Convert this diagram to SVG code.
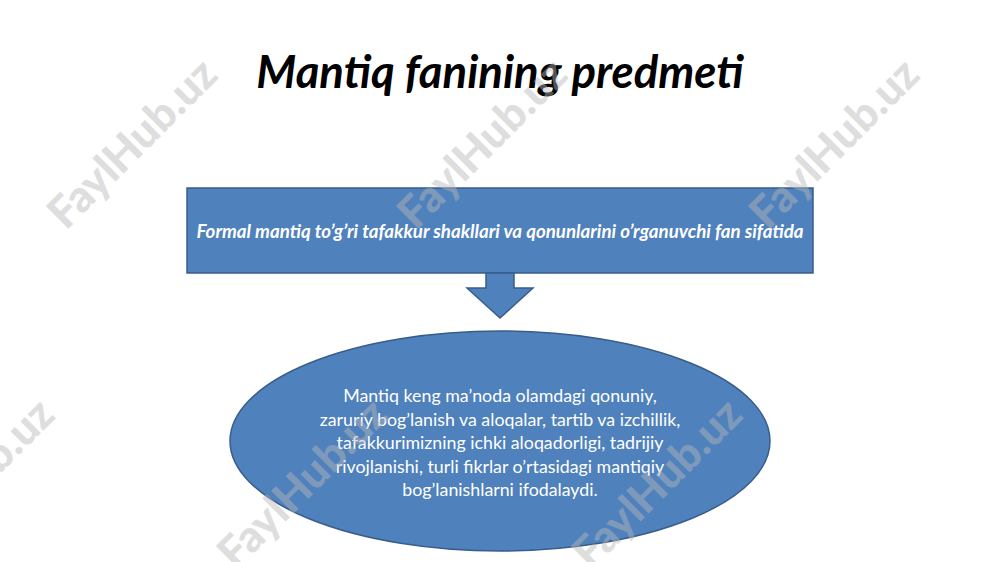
<svg xmlns="http://www.w3.org/2000/svg" width="1000" height="562" viewBox="0 0 1000 562">
<style>
.shape{fill:#4f81bd;stroke:#385d8a;stroke-width:1.5}
.title{font-family:Lato,"Liberation Sans",sans-serif;font-weight:bold;font-style:italic;font-size:45.5px;fill:#000;text-anchor:middle}
.boxt{font-family:Lato,"Liberation Sans",sans-serif;font-weight:bold;font-style:italic;font-size:18.7px;fill:#fff;text-anchor:middle}
.ellt{font-family:Lato,"Liberation Sans",sans-serif;font-size:17.8px;fill:#fff;text-anchor:middle}
.wm{font-family:Lato,"Liberation Sans",sans-serif;font-weight:900;font-size:44px;fill:#b8b8b8;opacity:0.45;text-anchor:middle}
</style>
<rect width="1000" height="562" fill="#fff"/>
<g id="title"><text class="title" x="500" y="88">Mantiq fanining predmeti</text></g>
<g id="box">
<rect class="shape" x="187" y="188" width="626" height="85"/>
<text class="boxt" x="500" y="238">Formal mantiq to’g’ri tafakkur shakllari va qonunlarini o’rganuvchi fan sifatida</text>
</g>
<g id="connectors">
<path class="shape" d="M486,273 L514,273 L514,288 L533,288 L500,318 L467,288 L486,288 Z"/>
</g>
<g id="ellipse">
<ellipse class="shape" cx="500" cy="441" rx="270" ry="110"/>
<text class="ellt" x="500" y="402">Mantiq keng ma’noda olamdagi qonuniy,</text>
<text class="ellt" x="500" y="425.5">zaruriy bog’lanish va aloqalar, tartib va izchillik,</text>
<text class="ellt" x="500" y="449">tafakkurimizning ichki aloqadorligi, tadrijiy</text>
<text class="ellt" x="500" y="472.5">rivojlanishi, turli fikrlar o’rtasidagi mantiqiy</text>
<text class="ellt" x="500" y="496">bog’lanishlarni ifodalaydi.</text>
</g>
<g id="watermarks">
<text class="wm" transform="translate(143,154) rotate(-45)">FaylHub.uz</text>
<text class="wm" transform="translate(493,154) rotate(-45)">FaylHub.uz</text>
<text class="wm" transform="translate(845,154) rotate(-45)">FaylHub.uz</text>
<text class="wm" transform="translate(-20,494) rotate(-45)">FaylHub.uz</text>
<text class="wm" transform="translate(313,494) rotate(-45)">FaylHub.uz</text>
<text class="wm" transform="translate(668,494) rotate(-45)">FaylHub.uz</text>
</g>
</svg>
